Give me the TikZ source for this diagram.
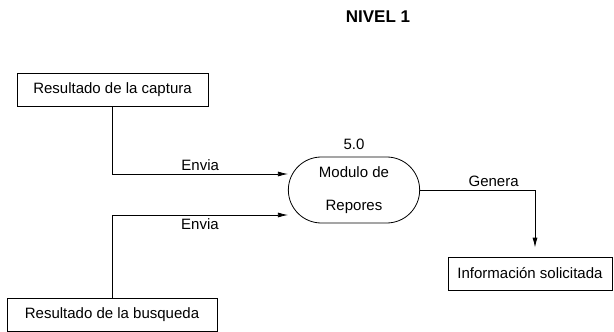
\documentclass[tikz,border=0pt]{standalone}
\usepackage{fontspec}
\setmainfont{Liberation Sans}
\usetikzlibrary{arrows,arrows.meta,shapes,calc,positioning}
\tikzstyle{entidad}=[rectangle,draw,line width=0.8pt,inner sep=0pt,minimum height=33pt]
\tikzstyle{proceso}=[rounded rectangle,draw,line width=0.8pt,minimum width=138pt,minimum height=66pt,align=center]
\tikzstyle{flujo}=[line width=0.8pt,-{Latex[length=10pt,width=5pt]}]

\begin{document}
\begin{tikzpicture}[x=1pt,y=-1pt,font=\fontsize{15}{18}\selectfont]
\useasboundingbox (0,0) rectangle (614,332);
\node[font=\fontsize{17}{20}\selectfont\bfseries] (titulo) at (378,17) {NIVEL 1};
\node[entidad,minimum width=191pt] (captura) at (112.5,90) {Resultado de la captura};
\node[entidad,minimum width=210pt] (busqueda) at (112,314.5) {Resultado de la busqueda};
\node[entidad,minimum width=164pt] (info) at (530,273.5) {Información solicitada};
\node[proceso] (modulo) at (354,190) {Modulo de\\[15pt]Repores};
\node[above=3pt of modulo] (num) {5.0};

      \draw[flujo] (captura.south) |- ([yshift=16pt]modulo.west)
        node[pos=0.75,above] (e1) {Envia};
      \draw[flujo] (busqueda.north) |- ([yshift=-25pt]modulo.west)
        node[pos=0.75,below] (e2) {Envia};
      \draw[flujo,shorten >=9pt] (modulo.east) -| ([xshift=5pt]info.north)
        node[pos=0.32,above] (g) {Genera};

\end{tikzpicture}
\end{document}
